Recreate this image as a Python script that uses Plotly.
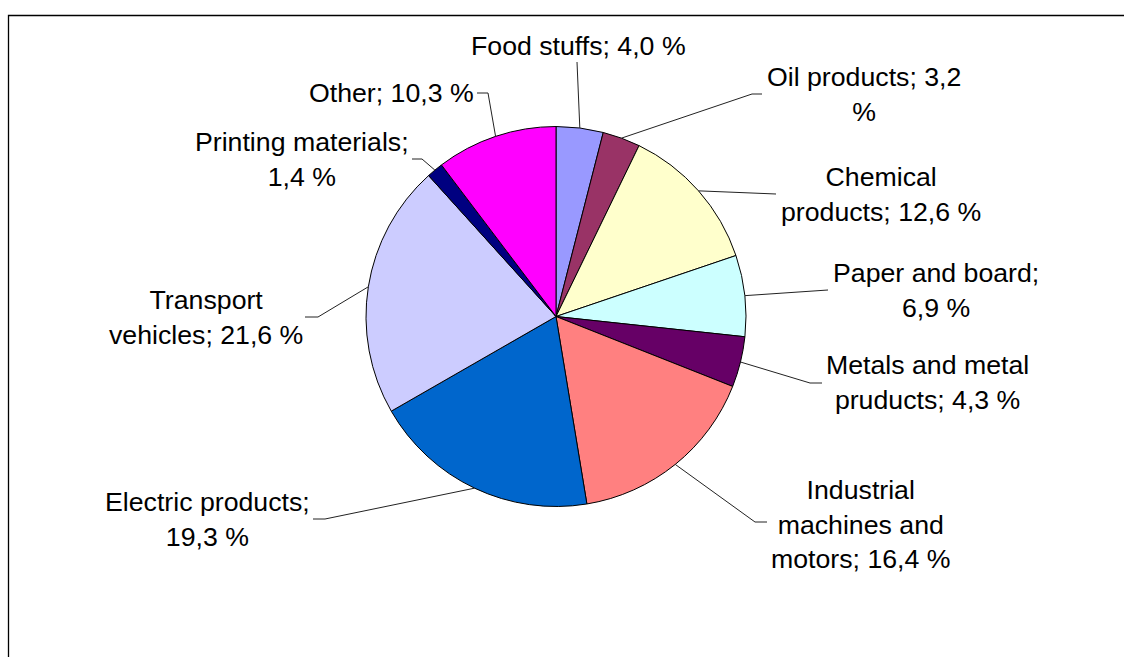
import math
import plotly.graph_objects as go

# Share of imports by product group (%)
categories = [
    "Food stuffs", "Oil products", "Chemical products", "Paper and board",
    "Metals and metal pruducts", "Industrial machines and motors",
    "Electric products", "Transport vehicles", "Printing materials", "Other",
]
values = [4.0, 3.2, 12.6, 6.9, 4.3, 16.4, 19.3, 21.6, 1.4, 10.3]
colors = [
    "#9999FF", "#993366", "#FFFFCC", "#CCFFFF", "#660066",
    "#FF8080", "#0066CC", "#CCCCFF", "#000080", "#FF00FF",
]

# Words per line when wrapping each label
wrap = [[4], [3, 1], [1, 3], [3, 2], [3, 3], [1, 2, 3], [2, 2], [1, 3], [2, 2], [3]]

# Label block centres and leader-line bends, in pixels
label_pos = [
    (578, 46), (864, 94.5), (881, 194.5), (936, 290.5), (927, 382.5),
    (860, 524), (207.5, 519.5), (206, 317.5), (302, 159.5), (391, 93),
]
leader_pts = [
    [(577, 62)],
    [(752, 94), (762, 94)],
    [(776, 194)],
    [(828, 290)],
    [(810, 383), (822, 383)],
    [(755, 522), (767, 522)],
    [(325, 519), (313, 519)],
    [(318, 317), (305, 317)],
    [(422, 159), (412, 159)],
    [(488, 93), (477, 93)],
]

W, H = 1124, 657
CX, CY, R = 556, 316.5, 190


def px(x):
    return x / W


def py(y):
    return 1 - y / H


fig = go.Figure(
    go.Pie(
        labels=categories,
        values=values,
        sort=False,
        direction="clockwise",
        rotation=0,
        marker=dict(colors=colors, line=dict(color="black", width=1)),
        textinfo="none",
        hoverinfo="label+percent",
        showlegend=False,
        domain=dict(x=[px(CX - R), px(CX + R)], y=[py(CY + R), py(CY - R)]),
    )
)

shapes = [
    dict(type="rect", xref="paper", yref="paper",
         x0=px(8.5), x1=px(W + 20), y0=py(H + 20), y1=py(15.5),
         line=dict(color="black", width=1.3), fillcolor="rgba(0,0,0,0)"),
]
annotations = []

total = sum(values)
cum = 0.0
for name, val, words_per_line, (lx, ly), pts in zip(
        categories, values, wrap, label_pos, leader_pts):
    mid = (cum + val / 2) / total * 2 * math.pi
    cum += val
    sx = CX + R * math.sin(mid)
    sy = CY - R * math.cos(mid)
    path = f"M {px(sx)},{py(sy)}" + "".join(f" L {px(x)},{py(y)}" for x, y in pts)
    shapes.append(dict(type="path", xref="paper", yref="paper", path=path,
                       line=dict(color="#222222", width=1)))

    words = f"{name}; {val:.1f} %".replace(".", ",").split(" ")
    lines, i = [], 0
    for n in words_per_line:
        lines.append(" ".join(words[i:i + n]))
        i += n
    annotations.append(dict(
        x=px(lx), y=py(ly), xref="paper", yref="paper",
        text="<br>".join(lines), showarrow=False,
        xanchor="center", yanchor="middle", align="center",
        font=dict(family="Liberation Sans, Arial, sans-serif", size=26.7, color="black"),
    ))

fig.update_layout(
    width=W, height=H,
    margin=dict(l=0, r=0, t=0, b=0),
    paper_bgcolor="white", plot_bgcolor="white",
    shapes=shapes, annotations=annotations,
)

fig.write_html("out.html")
